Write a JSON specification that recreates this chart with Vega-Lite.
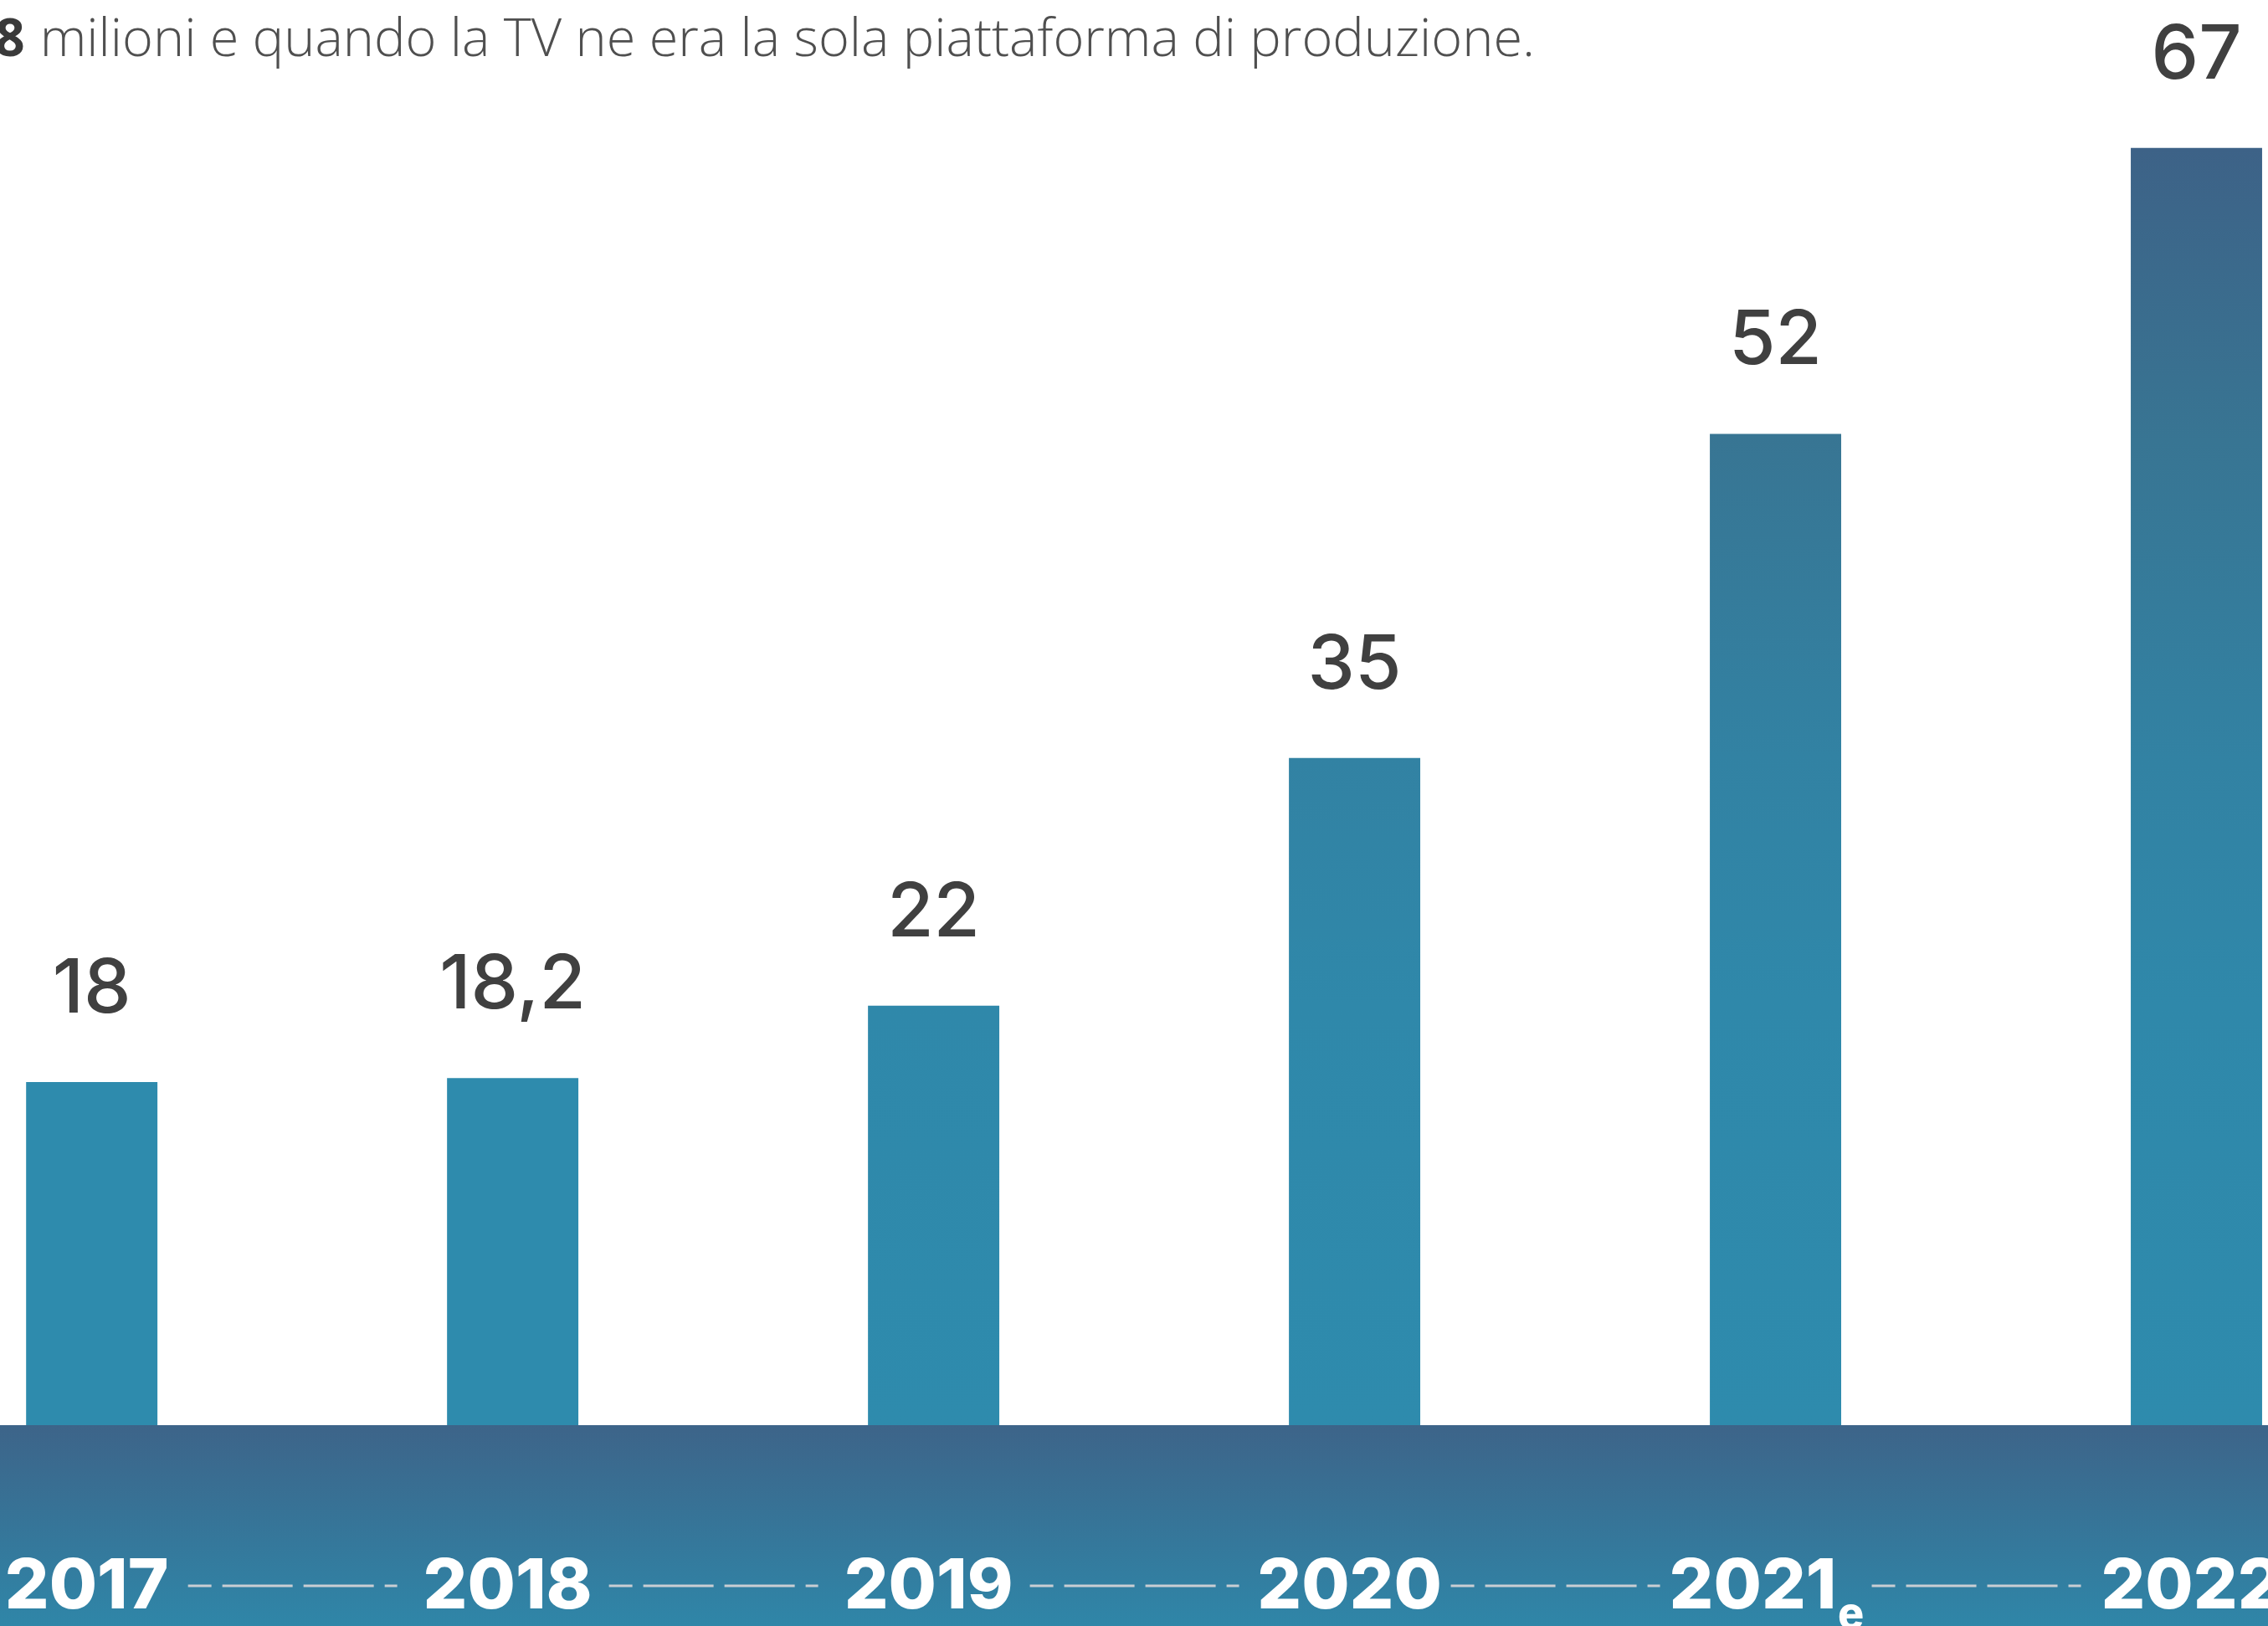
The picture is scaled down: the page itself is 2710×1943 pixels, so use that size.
{
  "$schema": "https://vega.github.io/schema/vega-lite/v6.json",
  "width": 2710,
  "height": 1943,
  "autosize": "none",
  "padding": 0,
  "background": "white",
  "config": {"view": {"stroke": null}},
  "data": {"values": [
    {"year": "2017", "value": 18, "label": "18"},
    {"year": "2018", "value": 18.2, "label": "18,2"},
    {"year": "2019", "value": 22, "label": "22"},
    {"year": "2020", "value": 35, "label": "35"},
    {"year": "2021", "value": 52, "label": "52"},
    {"year": "2022", "value": 67, "label": "67"}
  ]},
  "encoding": {
    "x": {"field": "year", "type": "nominal", "axis": null,
      "scale": {"type": "band", "paddingInner": 0.688, "paddingOuter": 0.038, "align": 0.816}}
  },
  "layer": [
    {
      "data": {"values": [{}]},
      "mark": {"type": "rect", "color": {"gradient": "linear", "x1": 0, "y1": 0, "x2": 0, "y2": 1,
        "stops": [{"offset": 0, "color": "#3d6489"}, {"offset": 1, "color": "#2f86a8"}]}},
      "encoding": {
        "x": null,
        "y": {"datum": 0, "type": "quantitative", "axis": null,
          "scale": {"domain": [-10.54, 74.76], "zero": false, "nice": false, "padding": 0}},
        "y2": {"datum": -10.54}
      }
    },
    {
      "mark": {"type": "bar"},
      "encoding": {
        "y": {"field": "value", "type": "quantitative", "axis": null},
        "color": {
          "condition": [
            {"test": "datum.year === '2022'", "value": {"gradient": "linear", "x1": 0, "y1": 1, "x2": 0, "y2": 0,
              "stops": [{"offset": 0, "color": "#2e8bad"}, {"offset": 0.33, "color": "#2f88aa"}, {"offset": 0.52, "color": "#3282a3"}, {"offset": 0.77, "color": "#387593"}, {"offset": 1, "color": "#3d6287"}]}},
            {"test": "datum.year === '2021'", "value": {"gradient": "linear", "x1": 0, "y1": 1, "x2": 0, "y2": 0,
              "stops": [{"offset": 0, "color": "#2e8bad"}, {"offset": 0.43, "color": "#2f88aa"}, {"offset": 0.675, "color": "#3282a3"}, {"offset": 1, "color": "#387593"}]}},
            {"test": "datum.year === '2020'", "value": {"gradient": "linear", "x1": 0, "y1": 1, "x2": 0, "y2": 0,
              "stops": [{"offset": 0, "color": "#2e8bad"}, {"offset": 0.63, "color": "#2f88aa"}, {"offset": 1, "color": "#3282a3"}]}},
            {"test": "datum.year === '2019'", "value": {"gradient": "linear", "x1": 0, "y1": 1, "x2": 0, "y2": 0,
              "stops": [{"offset": 0, "color": "#2e8bad"}, {"offset": 1, "color": "#2f88aa"}]}}
          ],
          "value": "#2e8bad"
        }
      }
    },
    {
      "mark": {"type": "text", "dy": -83, "baseline": "alphabetic", "align": "center",
        "font": "Inter", "fontWeight": 500, "fontSize": 90, "color": "#404040"},
      "encoding": {
        "y": {"field": "value", "type": "quantitative"},
        "text": {"field": "label"}
      }
    },
    {
      "transform": [{"filter": "datum.year !== '2021'"}],
      "mark": {"type": "text", "dx": -6, "baseline": "alphabetic", "align": "center",
        "font": "Inter", "fontWeight": 800, "fontSize": 83, "color": "white"},
      "encoding": {
        "y": {"datum": -9.62},
        "text": {"field": "year"}
      }
    },
    {
      "transform": [{"filter": "datum.year === '2021'"}],
      "mark": {"type": "text", "dx": -27, "baseline": "alphabetic", "align": "center",
        "font": "Inter", "fontWeight": 800, "fontSize": 83, "color": "white"},
      "encoding": {
        "y": {"datum": -9.62},
        "text": {"field": "year"}
      }
    },
    {
      "transform": [{"filter": "datum.year === '2021'"}],
      "mark": {"type": "text", "dx": 90, "baseline": "alphabetic", "align": "center",
        "font": "Inter", "fontWeight": 800, "fontSize": 52, "color": "white"},
      "encoding": {
        "y": {"datum": -10.65},
        "text": {"value": "e"}
      }
    },
    {
      "data": {"values": [
        {"from": "2017", "to": "2018"},
        {"from": "2018", "to": "2019"},
        {"from": "2019", "to": "2020"},
        {"from": "2020", "to": "2021"},
        {"from": "2021", "to": "2022"}
      ]},
      "mark": {"type": "rule", "xOffset": 115, "x2Offset": -138, "color": "#c9ced3", "strokeWidth": 3,
        "strokeDash": [84, 13], "strokeDashOffset": 56},
      "encoding": {
        "x": {"field": "from", "type": "nominal"},
        "x2": {"field": "to"},
        "y": {"datum": -8.43}
      }
    },
    {
      "data": {"values": [{"t": "8"}]},
      "mark": {"type": "text", "dx": -80, "align": "right", "baseline": "alphabetic",
        "font": "Open Sans", "fontWeight": 700, "fontSize": 62, "color": "#3a3a3a"},
      "encoding": {
        "x": {"datum": "2017"},
        "y": {"datum": 71.8},
        "text": {"field": "t"}
      }
    },
    {
      "data": {"values": [{"t": "milioni e quando la TV ne era la sola piattaforma di produzione."}]},
      "mark": {"type": "text", "dx": -62, "align": "left", "baseline": "alphabetic",
        "font": "Open Sans", "fontWeight": 300, "fontSize": 63, "color": "#4f4f4f"},
      "encoding": {
        "x": {"datum": "2017"},
        "y": {"datum": 71.8},
        "text": {"field": "t"}
      }
    }
  ]
}
